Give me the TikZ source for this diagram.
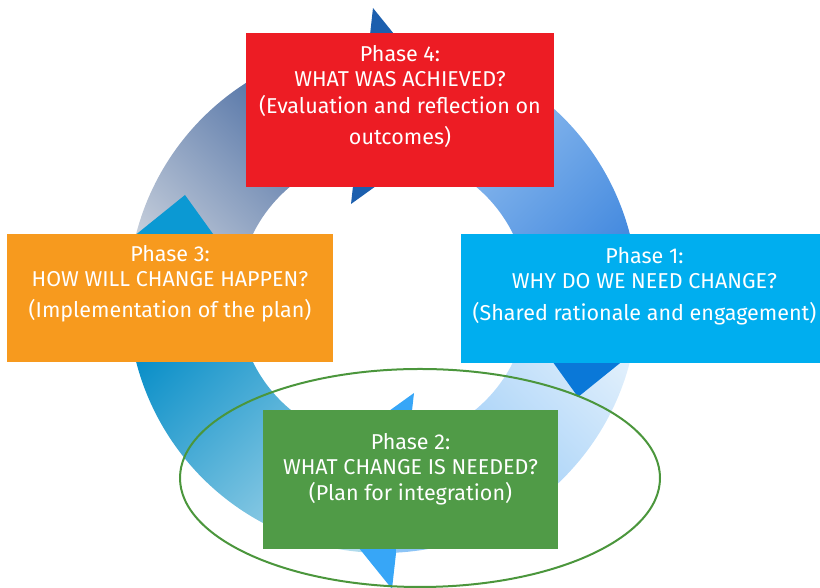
\documentclass[tikz,border=0pt]{standalone}
\usepackage{fontspec}
\setmainfont{Fira Sans}
\usetikzlibrary{positioning,shapes.geometric}
\definecolor{phred}{HTML}{ED1C24}
\definecolor{phorange}{HTML}{F79A1E}
\definecolor{phblue}{HTML}{00AEEF}
\definecolor{phgreen}{HTML}{509B47}
\definecolor{focusgreen}{HTML}{4B963C}
% ring colours, start and end of each quarter
\definecolor{bandAs}{HTML}{C8D0DC}
\definecolor{bandAe}{HTML}{385E9A}
\definecolor{bandBs}{HTML}{B2D4F6}
\definecolor{bandBe}{HTML}{468BDF}
\definecolor{bandCs}{HTML}{E4F1FC}
\definecolor{bandCe}{HTML}{8CC4F6}
\definecolor{bandDs}{HTML}{B0DBEC}
\definecolor{bandDe}{HTML}{0A8FC8}
\definecolor{headA}{HTML}{1C5FAE}
\definecolor{headB}{HTML}{0A78D8}
\definecolor{headC}{HTML}{37A6F7}
\definecolor{headD}{HTML}{0B99D3}
\newcommand{\phfont}{\fontsize{21.5pt}{25.5pt}\selectfont}
% one quarter of the ring: outer start/inner start/outer end/inner end
\newcommand{\ringband}[5]{%
  \shade[#5] (#1:255pt) arc[start angle=#1, end angle=#3, radius=255pt]
    -- (#4:145pt) arc[start angle=#4, end angle=#2, radius=145pt] -- cycle;}
\tikzset{
  phbox/.style={rectangle,inner sep=0pt},
  phtxt/.style={text=white,align=center,inner sep=0pt,font=\phfont},
  tipfill/.style={draw=none},
}

\begin{document}
\begin{tikzpicture}[x=1pt,y=1pt]
  \useasboundingbox (0,0) rectangle (820,588);
  % the cycle of four curved arrows
  \begin{scope}[shift={(383,290)}]
    \ringband{179}{183.1}{93.2}{100.6}{bottom color=bandAs,top color=bandAe,shading angle=-45}
    \ringband{93.2}{100.6}{-0.2}{4.55}{bottom color=bandBs,top color=bandBe,shading angle=-135}
    \ringband{-0.2}{4.55}{-87.05}{-79.85}{bottom color=bandCs,top color=bandCe,shading angle=135}
    \ringband{-87.05}{-79.85}{-181}{-176.9}{bottom color=bandDs,top color=bandDe,shading angle=45}
    \coordinate (tipA) at (82,176);
    \coordinate (tipB) at (195,-99);
    \coordinate (tipC) at (-83,-177);
    \coordinate (tipD) at (-198,103);
    \fill[tipfill,fill=headA] (tipA) -- (-10,290) -- (-32,94) -- cycle;
    \fill[tipfill,fill=headB] (tipB) -- (309,-7) -- (113,15) -- cycle;
    \fill[tipfill,fill=headC] (tipC) -- (9,-291) -- (31,-95) -- cycle;
    \fill[tipfill,fill=headD] (tipD) -- (-312,11) -- (-116,-11) -- cycle;
  \end{scope}
  \node[draw=focusgreen,line width=2pt,ellipse,inner sep=0pt,
    minimum width=480pt,minimum height=218pt] (focus) at (420,110) {};
  % phase boxes
  \node[phbox,fill=phred,minimum width=308pt,minimum height=154pt] (p4) at (400,478) {};
  \node[phtxt,below=12pt of p4.north] (t4) {Phase 4:\\WHAT WAS ACHIEVED?\\[1pt](Evaluation and reflection on\\[6pt]outcomes)};
  \node[phbox,fill=phorange,minimum width=326pt,minimum height=128pt] (p3) at (170,290) {};
  \node[phtxt,below=11pt of p3.north] (t3) {Phase 3:\\HOW WILL CHANGE HAPPEN?\\[5pt](Implementation of the plan)};
  \node[phbox,fill=phblue,minimum width=359pt,minimum height=129pt] (p1) at (640.5,289.5) {};
  \node[phtxt,below=13pt of p1.north,xshift=4pt] (t1) {Phase 1:\\WHY DO WE NEED CHANGE?\\[6.5pt](Shared rationale and engagement)};
  \node[phbox,fill=phgreen,minimum width=295pt,minimum height=139pt] (p2) at (410.5,108.5) {};
  \node[phtxt,below=23pt of p2.north] (t2) {Phase 2:\\WHAT CHANGE IS NEEDED?\\(Plan for integration)};
\end{tikzpicture}
\end{document}
